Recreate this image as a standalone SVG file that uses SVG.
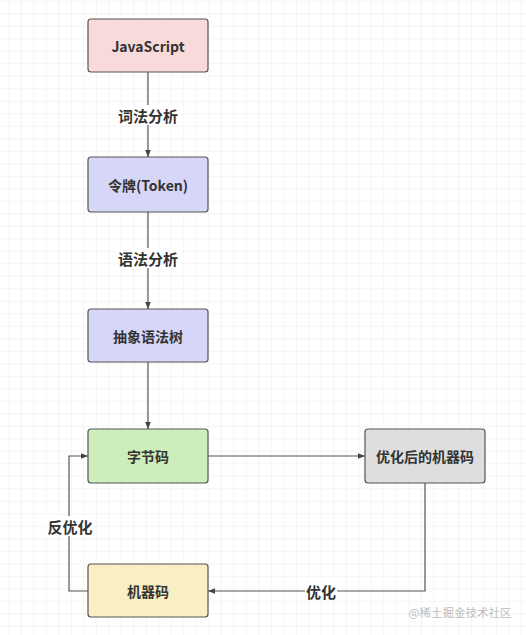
<svg xmlns="http://www.w3.org/2000/svg" width="526" height="635" viewBox="0 0 526 635">
<style>
.box{stroke:#555;stroke-width:1.2}
.t{font-family:"Noto Sans CJK SC","Noto Sans",sans-serif;font-weight:bold;font-size:14px;fill:#333;text-anchor:middle;dominant-baseline:central}
.lb{font-family:"Noto Sans CJK SC","Noto Sans",sans-serif;font-weight:bold;font-size:15px;fill:#333;text-anchor:middle;dominant-baseline:central}
.ln{fill:none;stroke:#555;stroke-width:1.2}
</style>
<defs>
<pattern id="grid" x="8.3" y="13.3" width="12.5" height="12.5" patternUnits="userSpaceOnUse">
<path d="M0 0H12.5M0 0V12.5" fill="none" stroke="#ebebeb" stroke-width="1"/>
</pattern>
<marker id="arr" viewBox="0 0 10 10" refX="10" refY="5" markerWidth="7" markerHeight="7" orient="auto" markerUnits="userSpaceOnUse">
<path d="M0 1 L10 5 L0 9 Z" fill="#444"/>
</marker>
</defs>
<rect width="526" height="635" fill="#fff"/>
<rect width="526" height="635" fill="url(#grid)"/>
<g id="connectors">
<path class="ln" d="M148 72V157" marker-end="url(#arr)"/>
<path class="ln" d="M148 212V309" marker-end="url(#arr)"/>
<path class="ln" d="M148 362V429" marker-end="url(#arr)"/>
<path class="ln" d="M208 456H365" marker-end="url(#arr)"/>
<path class="ln" d="M425 483V591H208" marker-end="url(#arr)"/>
<path class="ln" d="M88 591H69V456H88" marker-end="url(#arr)"/>
<rect x="116" y="105" width="64" height="20" fill="#fff"/>
<text class="lb" x="148" y="115">词法分析</text>
<rect x="116" y="248" width="64" height="20" fill="#fff"/>
<text class="lb" x="148" y="258">语法分析</text>
<rect x="305" y="581" width="32" height="20" fill="#fff"/>
<text class="lb" x="321" y="591">优化</text>
<rect x="46" y="516" width="48" height="20" fill="#fff"/>
<text class="lb" x="70" y="526">反优化</text>
</g>
<g id="js">
<rect class="box" x="88" y="19" width="120" height="53" rx="3" fill="#f9dada"/>
<text class="t" x="148" y="45.5">JavaScript</text>
</g>
<g id="token">
<rect class="box" x="88" y="157" width="120" height="55" rx="3" fill="#d6d6f8"/>
<text class="t" x="148" y="184.5">令牌(Token)</text>
</g>
<g id="ast">
<rect class="box" x="88" y="309" width="120" height="53" rx="3" fill="#d6d6f8"/>
<text class="t" x="148" y="335.5">抽象语法树</text>
</g>
<g id="bytecode">
<rect class="box" x="88" y="429" width="120" height="54" rx="3" fill="#cdedbb"/>
<text class="t" x="148" y="456">字节码</text>
</g>
<g id="optimized">
<rect class="box" x="365" y="429" width="120" height="54" rx="3" fill="#dedede"/>
<text class="t" x="425" y="456">优化后的机器码</text>
</g>
<g id="machine">
<rect class="box" x="88" y="564" width="120" height="53" rx="3" fill="#f8efc4"/>
<text class="t" x="148" y="590.5">机器码</text>
</g>
<text x="460" y="612" font-family="Noto Sans CJK SC,sans-serif" font-size="11.5" fill="#bdbdbd" text-anchor="middle" dominant-baseline="central">@稀土掘金技术社区</text>
</svg>
